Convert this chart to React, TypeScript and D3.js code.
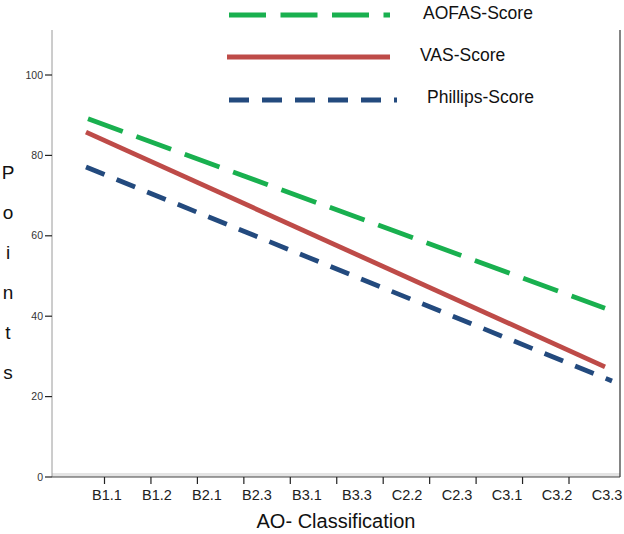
import React from "react";
import * as d3 from "d3";

const categories = ["B1.1", "B1.2", "B2.1", "B2.3", "B3.1", "B3.3", "C2.2", "C2.3", "C3.1", "C3.2", "C3.3"];
const yTicks = [0, 20, 40, 60, 80, 100];
const seriesNames = ["AOFAS-Score", "VAS-Score", "Phillips-Score"];
// start/end of each trend line, in category-index units along the label axis
const seriesX = [
  [-0.38, 9.96],
  [-0.42, 9.96],
  [-0.42, 10.1],
];
const seriesY = [
  [89.1, 42.0],
  [85.8, 27.4],
  [77.1, 23.9],
];
const colors = ["#19b04f", "#be4b48", "#234a7e"];
const dashes = ["37 14.5", null, "20 13"];

const W = 624;
const H = 534;
const left = 52;
const right = 620;
const top = 30;
const bottom = 477;

export default function App() {
  const y = d3.scaleLinear().domain([0, 111]).range([bottom, bottom - 111 * 4.02]);
  const xTick = d3.scalePoint<string>().domain(categories).range([104.5, 569]);
  const xLabel = d3.scaleLinear().domain([0, categories.length - 1]).range([107, 607]);
  const line = d3
    .line<[number, number]>()
    .x((d) => xLabel(d[0]))
    .y((d) => y(d[1]));

  const legendY = [15, 57, 100];
  const legendTextY = [12.5, 55, 97];
  const legendTextX = [423, 420, 427];

  return (
    <svg width={W} height={H} style={{ position: "absolute", left: 0, top: 0, fontFamily: "'Liberation Sans', Arial, sans-serif" }}>
      <rect width={W} height={H} fill="#fff" />
      {/* bottom band */}
      <rect x={left} y={bottom - 4} width={right - left} height={4} fill="#e4e4e4" />
      {/* y axis */}
      <line x1={left} x2={left} y1={top} y2={bottom} stroke="#9a9a9a" strokeWidth={1} />
      {/* right border */}
      <line x1={right} x2={right} y1={top} y2={bottom} stroke="#333" strokeWidth={1.2} />
      {/* x axis */}
      <line x1={left} x2={right} y1={bottom} y2={bottom} stroke="#444" strokeWidth={1} />
      {yTicks.map((t) => (
        <g key={t}>
          <line x1={left - 7} x2={left} y1={y(t)} y2={y(t)} stroke="#222" strokeWidth={1.2} />
          <text x={left - 9} y={y(t)} dy="0.35em" textAnchor="end" fontSize={10.5} fill="#333">
            {t}
          </text>
        </g>
      ))}
      {categories.map((c, i) => (
        <g key={c}>
          <line x1={xTick(c)} x2={xTick(c)} y1={bottom} y2={bottom + 7} stroke="#222" strokeWidth={1.2} />
          <text x={xLabel(i)} y={495} dy="0.35em" textAnchor="middle" fontSize={14.5} fill="#222">
            {c}
          </text>
        </g>
      ))}
      <text x={336} y={521} dy="0.35em" textAnchor="middle" fontSize={20} fill="#111">
        AO- Classification
      </text>
      {"Points".split("").map((ch, i) => (
        <text key={i} x={8} y={172 + i * 40} dy="0.35em" textAnchor="middle" fontSize={19} fill="#111">
          {ch}
        </text>
      ))}
      {seriesNames.map((name, i) => (
        <path
          key={name}
          d={line([
            [seriesX[i][0], seriesY[i][0]],
            [seriesX[i][1], seriesY[i][1]],
          ]) || ""}
          fill="none"
          stroke={colors[i]}
          strokeWidth={4.8}
          strokeDasharray={dashes[i] || undefined}
        />
      ))}
      {seriesNames.map((name, i) => (
        <g key={"lg" + name}>
          <line
            x1={i === 1 ? 227 : 229}
            x2={i === 2 ? 397 : 390}
            y1={legendY[i]}
            y2={legendY[i]}
            stroke={colors[i]}
            strokeWidth={4.8}
            strokeDasharray={dashes[i] || undefined}
          />
          <text x={legendTextX[i]} y={legendTextY[i]} dy="0.35em" fontSize={17.5} fill="#111">
            {name}
          </text>
        </g>
      ))}
    </svg>
  );
}
